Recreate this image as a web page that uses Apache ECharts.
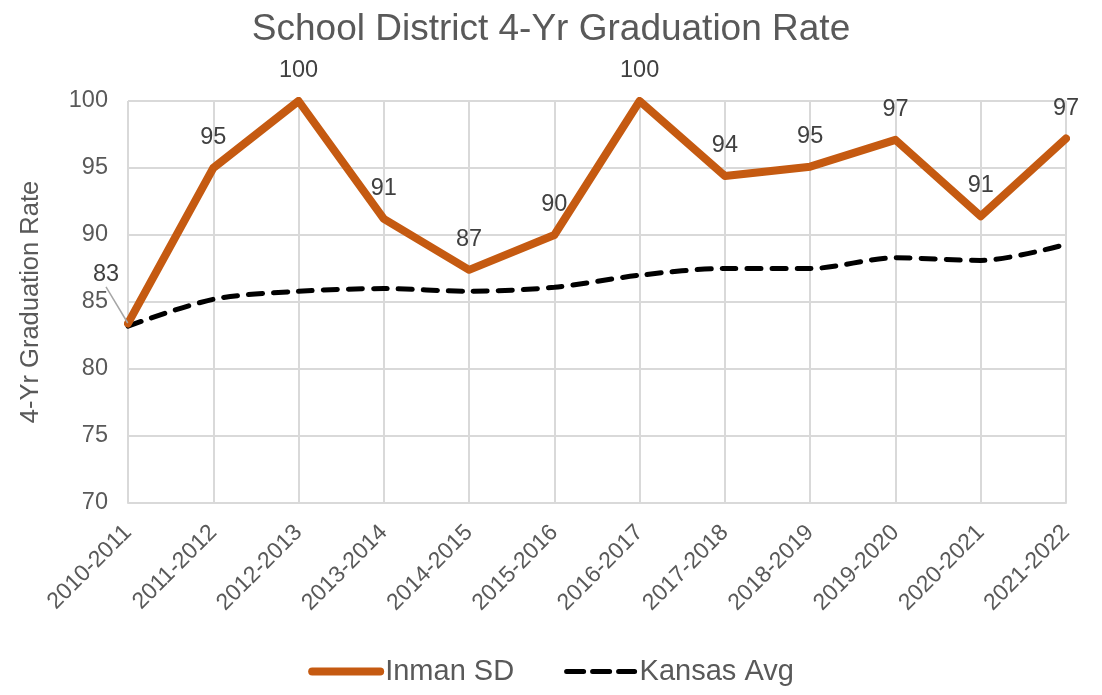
<!DOCTYPE html>
<html>
<head>
<meta charset="utf-8">
<script src="https://cdn.jsdelivr.net/npm/echarts@6/dist/echarts.min.js"></script>
<style>
  html, body { margin: 0; padding: 0; background: #fff; }
  #chart { width: 1102px; height: 695px; }
</style>
</head>
<body>
<div id="chart"></div>
<script>
const years = ['2010-2011', '2011-2012', '2012-2013', '2013-2014', '2014-2015', '2015-2016',
    '2016-2017', '2017-2018', '2018-2019', '2019-2020', '2020-2021', '2021-2022'];
const inman = [83.4, 95.0, 100, 91.2, 87.4, 90.0, 100, 94.4, 95.1, 97.1, 91.4, 97.2];
const kansas = [83.2, 85.2, 85.8, 86.0, 85.8, 86.1, 87.0, 87.5, 87.5, 88.3, 88.1, 89.3];

const chart = echarts.init(document.getElementById('chart'));
const font = 'Liberation Sans, Arial, sans-serif';

// first label sits up-left of its point with a leader line, like in the original
const inmanData = inman.map((v, i) => i === 0
    ? { value: v, labelLine: { show: true, lineStyle: { color: '#a6a6a6', width: 1.5 } } }
    : v);

const option = {
    animation: false,
    title: {
        text: 'School District 4-Yr Graduation Rate',
        left: 'center',
        top: 6,
        textStyle: { fontFamily: font, fontSize: 37, fontWeight: 'normal', color: '#595959' }
    },
    grid: { left: 128, right: 36, top: 101, bottom: 192 },
    legend: {
        bottom: 4,
        left: 'center',
        itemWidth: 68,
        itemHeight: 14,
        itemGap: 50,
        textStyle: { fontFamily: font, fontSize: 29, color: '#595959' },
        data: [
            { name: 'Inman SD', lineStyle: { width: 8, cap: 'round' } },
            { name: 'Kansas Avg', lineStyle: { width: 5, type: [17, 9], cap: 'round' } }
        ]
    },
    xAxis: {
        type: 'category',
        boundaryGap: false,
        data: years,
        axisTick: { show: false },
        axisLine: { lineStyle: { color: '#d9d9d9', width: 2 } },
        splitLine: { show: true, lineStyle: { color: '#d9d9d9', width: 2 } },
        axisLabel: { rotate: 45, margin: 26, fontFamily: font, fontSize: 23, color: '#595959' }
    },
    yAxis: {
        type: 'value',
        min: 70,
        max: 100,
        interval: 5,
        name: '4-Yr Graduation Rate',
        nameLocation: 'middle',
        nameGap: 84,
        nameTextStyle: { fontFamily: font, fontSize: 25.5, color: '#595959' },
        axisLine: { show: false },
        axisTick: { show: false },
        splitLine: { lineStyle: { color: '#d9d9d9', width: 2 } },
        axisLabel: { margin: 20, fontFamily: font, fontSize: 23.5, color: '#595959' }
    },
    series: [
        {
            name: 'Inman SD',
            type: 'line',
            data: inmanData,
            symbol: 'circle',
            symbolSize: 1,
            z: 3,
            lineStyle: { color: '#c55a11', width: 8, join: 'round', cap: 'round' },
            itemStyle: { color: 'rgba(0,0,0,0)' },
            label: {
                show: true,
                position: 'top',
                distance: 18,
                fontFamily: font,
                fontSize: 23.5,
                color: '#404040',
                formatter: p => Math.round(p.value)
            },
            labelLayout: p => p.dataIndex === 0 ? { dx: -22, dy: -18 } : {}
        },
        {
            name: 'Kansas Avg',
            type: 'line',
            data: kansas,
            symbol: 'circle',
            symbolSize: 1,
            smooth: 0.3,
            z: 2,
            lineStyle: { color: '#000', width: 5, type: [14, 11], cap: 'round' },
            itemStyle: { color: 'rgba(0,0,0,0)' }
        }
    ]
};

chart.setOption(option);
window.addEventListener('resize', chart.resize);
</script>
</body>
</html>
